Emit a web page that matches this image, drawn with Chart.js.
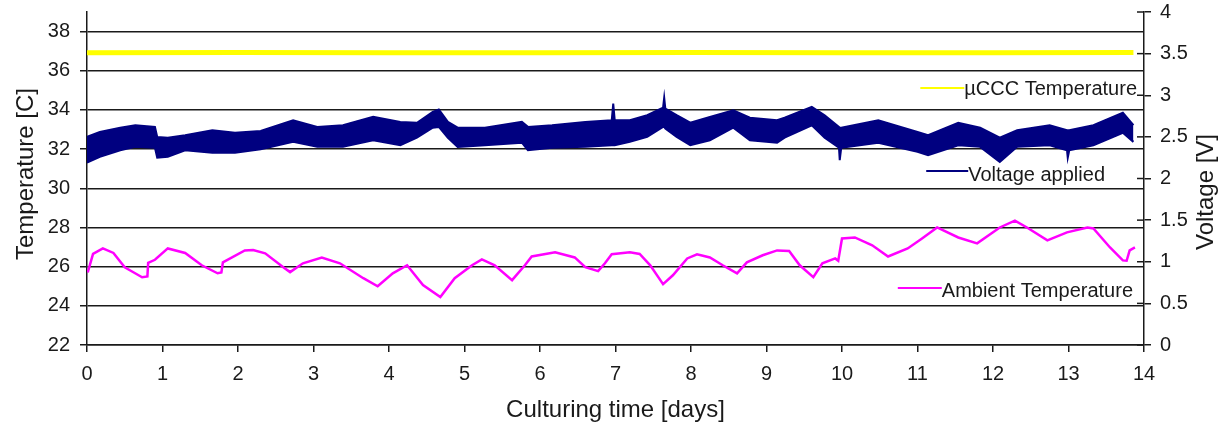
<!DOCTYPE html>
<html>
<head>
<meta charset="utf-8">
<script src="https://cdn.jsdelivr.net/npm/chart.js@4/dist/chart.umd.min.js"></script>
<style>
  html, body { margin: 0; padding: 0; background: #fff; }
  #chart { display: block; }
</style>
</head>
<body>
<canvas id="chart" width="1225" height="428"></canvas>
<script>
// --- Data ---
const dayTicks = [0, 1, 2, 3, 4, 5, 6, 7, 8, 9, 10, 11, 12, 13, 14];

// µCCC temperature (yellow), °C
const cccDays = [0, 2, 4, 6, 8, 10, 12, 13.86];
const cccTemp = [36.92, 36.93, 36.92, 36.92, 36.93, 36.92, 36.92, 36.93];

// voltage applied (navy), V -- drawn as the noise band between lower and upper
const voltDays  = [0.00, 0.17, 0.44, 0.64, 0.90, 0.93, 1.07, 1.30, 1.66, 1.96, 2.30, 2.73, 3.05, 3.39, 3.79, 4.15, 4.37, 4.58, 4.66, 4.78, 4.91, 5.27, 5.76, 5.84, 6.16, 6.60, 6.95, 6.97, 6.99, 7.19, 7.42, 7.63, 7.645, 7.66, 7.81, 7.99, 8.25, 8.56, 8.78, 9.14, 9.24, 9.60, 9.77, 9.96, 9.97, 9.99, 10.48, 11.00, 11.14, 11.54, 11.83, 12.09, 12.32, 12.75, 12.98, 12.99, 13.01, 13.33, 13.72, 13.86];
const voltUpper = [2.50, 2.56, 2.61, 2.64, 2.62, 2.50, 2.49, 2.52, 2.58, 2.55, 2.57, 2.70, 2.62, 2.64, 2.74, 2.68, 2.67, 2.80, 2.83, 2.68, 2.61, 2.61, 2.68, 2.62, 2.64, 2.68, 2.70, 2.90, 2.70, 2.70, 2.76, 2.85, 2.97, 2.84, 2.76, 2.67, 2.74, 2.82, 2.73, 2.70, 2.73, 2.86, 2.76, 2.62, 2.61, 2.61, 2.70, 2.56, 2.52, 2.67, 2.61, 2.49, 2.58, 2.64, 2.58, 2.58, 2.58, 2.64, 2.79, 2.64];
const voltLower = [2.19, 2.26, 2.34, 2.38, 2.37, 2.25, 2.26, 2.34, 2.31, 2.31, 2.35, 2.44, 2.38, 2.38, 2.46, 2.40, 2.49, 2.61, 2.62, 2.49, 2.38, 2.40, 2.43, 2.34, 2.37, 2.38, 2.40, 2.40, 2.40, 2.44, 2.50, 2.62, 2.62, 2.60, 2.50, 2.40, 2.46, 2.61, 2.46, 2.43, 2.49, 2.64, 2.49, 2.37, 2.22, 2.37, 2.43, 2.32, 2.28, 2.40, 2.38, 2.20, 2.38, 2.40, 2.34, 2.25, 2.34, 2.40, 2.55, 2.44];

// ambient temperature (magenta), °C
const ambDays = [0.01, 0.08, 0.21, 0.35, 0.50, 0.62, 0.73, 0.80, 0.81, 0.90, 1.07, 1.30, 1.52, 1.73, 1.78, 1.80, 2.09, 2.20, 2.36, 2.60, 2.69, 2.86, 3.11, 3.35, 3.66, 3.85, 4.05, 4.24, 4.45, 4.68, 4.87, 5.10, 5.23, 5.40, 5.63, 5.80, 5.89, 6.20, 6.46, 6.60, 6.77, 6.86, 6.95, 7.19, 7.32, 7.46, 7.63, 7.76, 7.95, 8.08, 8.25, 8.42, 8.61, 8.74, 8.95, 9.14, 9.30, 9.44, 9.62, 9.74, 9.91, 9.95, 10.00, 10.17, 10.40, 10.61, 10.87, 11.06, 11.26, 11.54, 11.79, 12.09, 12.29, 12.45, 12.72, 12.98, 13.25, 13.33, 13.55, 13.72, 13.77, 13.81, 13.88];
const ambTemp = [25.70, 26.65, 26.93, 26.70, 25.97, 25.70, 25.46, 25.50, 26.20, 26.35, 26.93, 26.70, 26.07, 25.66, 25.70, 26.22, 26.83, 26.85, 26.68, 25.97, 25.72, 26.17, 26.47, 26.17, 25.41, 25.00, 25.66, 26.07, 25.06, 24.45, 25.41, 26.07, 26.37, 26.07, 25.31, 26.07, 26.52, 26.73, 26.47, 25.97, 25.77, 26.17, 26.63, 26.73, 26.65, 26.07, 25.11, 25.56, 26.42, 26.63, 26.47, 26.07, 25.66, 26.22, 26.58, 26.83, 26.80, 26.07, 25.46, 26.17, 26.42, 26.30, 27.44, 27.49, 27.09, 26.52, 26.93, 27.44, 28.00, 27.49, 27.19, 28.00, 28.35, 28.00, 27.34, 27.75, 28.00, 27.95, 26.98, 26.32, 26.30, 26.83, 26.98];

const seriesNames = ['µCCC Temperature', 'Voltage applied', 'Ambient Temperature'];
const seriesColors = ['#FFFF00', '#000080', '#FF00FF'];

// --- helpers ---
const pts = (xs, ys) => xs.map((x, i) => ({ x, y: ys[i] }));
const FONT = '"Liberation Sans", Arial, sans-serif';
const INK = '#1a1a1a';

// --- overlay: axis titles, inner right ticks, in-plot legend ---
const overlay = {
  id: 'overlay',
  afterDraw(chart){
    const { ctx, chartArea: a, scales: { y1 } } = chart;
    ctx.save();

    // right axis ticks cross the axis line
    ctx.strokeStyle = INK; ctx.lineWidth = 1.5;
    y1.ticks.forEach(t => {
      const py = y1.getPixelForValue(t.value);
      ctx.beginPath(); ctx.moveTo(a.right - 7, py); ctx.lineTo(a.right, py); ctx.stroke();
    });

    // axis titles
    ctx.fillStyle = INK;
    ctx.font = '24px ' + FONT;
    ctx.textAlign = 'center'; ctx.textBaseline = 'middle';
    ctx.fillText('Culturing time [days]', (a.left + a.right) / 2, 410);

    ctx.save(); ctx.translate(26, 174); ctx.rotate(-Math.PI / 2);
    ctx.fillText('Temperature [C]', 0, 0); ctx.restore();

    ctx.save(); ctx.translate(1206, 192); ctx.rotate(-Math.PI / 2);
    ctx.fillText('Voltage [V]', 0, 0); ctx.restore();

    // legend entries sitting inside the plot, right-aligned
    const spots = [{ end: 1137, base: 95, line: 88, len: 44 },
                   { end: 1105, base: 181, line: 171, len: 42 },
                   { end: 1133, base: 297, line: 288, len: 44 }];
    ctx.font = '20px ' + FONT;
    ctx.textAlign = 'right'; ctx.textBaseline = 'alphabetic';
    seriesNames.forEach((name, i) => {
      const s = spots[i];
      const w = ctx.measureText(name).width;
      const x0 = s.end - w;
      ctx.strokeStyle = seriesColors[i]; ctx.lineWidth = 2;
      ctx.beginPath(); ctx.moveTo(x0 - s.len, s.line); ctx.lineTo(x0, s.line); ctx.stroke();
      ctx.fillStyle = INK;
      ctx.fillText(name, s.end, s.base);
    });
    ctx.restore();
  }
};

const tickFont = { family: FONT, size: 20 };
// fixed axis boxes so the plot area lands where the original has it
const fitY = w => s => { s.width = w; s.paddingTop = 0; s.paddingBottom = 0; };

new Chart(document.getElementById('chart'), {
  type: 'line',
  data: {
    datasets: [
      { label: seriesNames[2], data: pts(ambDays, ambTemp), yAxisID: 'y',
        borderColor: seriesColors[2], borderWidth: 2.5, pointRadius: 0, tension: 0, fill: false },
      { label: seriesNames[1] + ' low', data: pts(voltDays, voltLower), yAxisID: 'y1',
        borderColor: seriesColors[1], borderWidth: 2, pointRadius: 0, tension: 0, fill: false },
      { label: seriesNames[1], data: pts(voltDays, voltUpper), yAxisID: 'y1',
        borderColor: seriesColors[1], borderWidth: 2, pointRadius: 0, tension: 0,
        fill: '-1', backgroundColor: seriesColors[1] },
      { label: seriesNames[0], data: pts(cccDays, cccTemp), yAxisID: 'y',
        borderColor: seriesColors[0], borderWidth: 5, pointRadius: 0, tension: 0, fill: false }
    ]
  },
  options: {
    responsive: false,
    animation: false,
    layout: { padding: { top: 12, left: 0, right: 0, bottom: 0 } },
    plugins: { legend: { display: false }, tooltip: { enabled: false } },
    scales: {
      x: {
        type: 'linear', min: 0, max: 14,
        afterFit: s => { s.height = 83; s.paddingLeft = 0; s.paddingRight = 0; },
        afterBuildTicks: s => { s.ticks = dayTicks.map(v => ({ value: v })); },
        ticks: { font: tickFont, color: INK, padding: 10, maxRotation: 0, autoSkip: false },
        grid: { drawOnChartArea: false, color: INK, lineWidth: 1.5, tickLength: 7 },
        border: { color: INK, width: 1.5 }
      },
      y: {
        position: 'left', min: 22, max: 39,
        afterFit: fitY(87),
        ticks: { stepSize: 2, includeBounds: false, font: tickFont, color: INK, padding: 10 },
        grid: { color: INK, lineWidth: 1.5, tickLength: 7 },
        border: { color: INK, width: 1.5 }
      },
      y1: {
        position: 'right', min: 0, max: 4,
        afterFit: fitY(81),
        ticks: { stepSize: 0.5, font: tickFont, color: INK, padding: 9, callback: v => String(v) },
        grid: { drawOnChartArea: false, color: INK, lineWidth: 1.5, tickLength: 7 },
        border: { color: INK, width: 1.5 }
      }
    }
  },
  plugins: [overlay]
});
</script>
</body>
</html>
